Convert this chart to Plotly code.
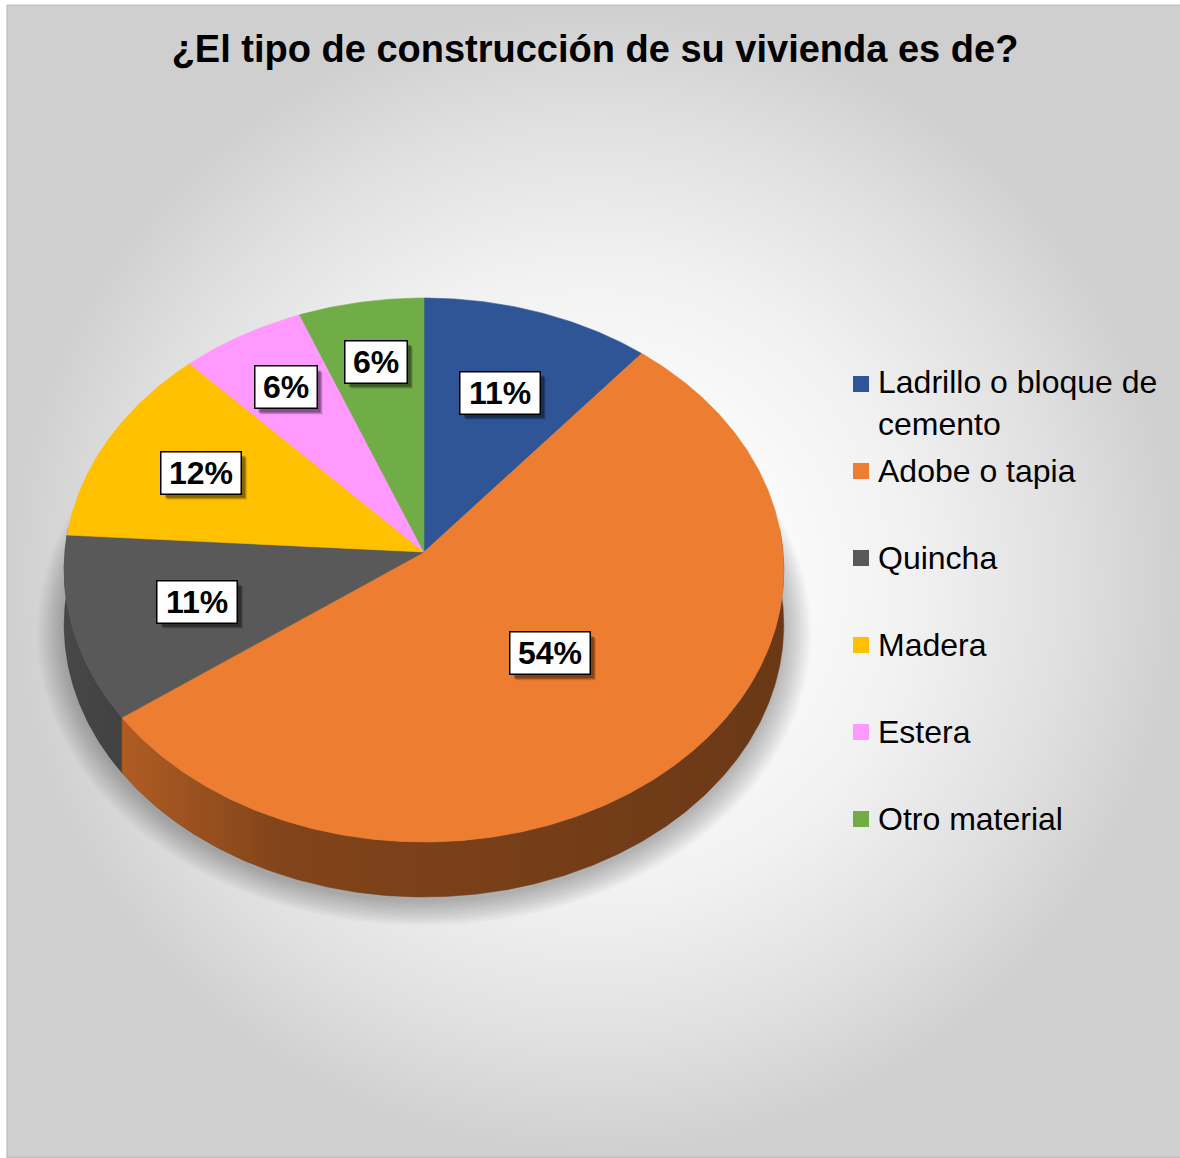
import numpy as np
import plotly.graph_objects as go

# ---------------- data ----------------
TITLE = "¿El tipo de construcción de su vivienda es de?"
CATEGORIES = ["Ladrillo o bloque de cemento", "Adobe o tapia", "Quincha",
              "Madera", "Estera", "Otro material"]
LEGEND_LABELS = ["Ladrillo o bloque de<br>cemento", "Adobe o tapia", "Quincha",
                 "Madera", "Estera", "Otro material"]
PERCENTAGES = [11, 54, 11, 12, 6, 6]

# ---------------- style ----------------
COLORS = ["#2F5597", "#ED7D31", "#595959", "#FFC000", "#FF99FF", "#70AD47"]
LABEL_RADIUS = [0.65, 0.5, 0.65, 0.7, 0.75, 0.75]
FONT = "Liberation Sans, Arial, sans-serif"

FIG_W, FIG_H = 1180, 1158
CX, CY = 424, 552              # pie apex (pixel space)
A, B, K = 359, 270.8, 0.0662   # ellipse radii + perspective factor
DEPTH = 55


def project(theta_deg, r=1.0):
    t = np.radians(np.asarray(theta_deg, dtype=float))
    u = r * np.sin(t)
    v = r * np.cos(t)
    d = 1 + K * v
    return CX + A * u / d, CY - B * v / d


def shade(hex_color, f):
    h = hex_color.lstrip("#")
    r, g, b = (int(h[i:i + 2], 16) for i in (0, 2, 4))
    return "rgb(%d,%d,%d)" % (r * f, g * f, b * f)


total = float(sum(PERCENTAGES))
bounds = np.concatenate([[0], np.cumsum(PERCENTAGES) / total * 360.0])

fig = go.Figure()

# background panel with radial gradient
fig.add_trace(go.Scatter(
    x=[7, 1182, 1182, 7, 7], y=[5, 5, 1157.5, 1157.5, 5], fill="toself", mode="lines",
    line=dict(color="#bdbdbd", width=1.2),
    fillgradient=dict(type="radial",
                      colorscale=[[0, "#ffffff"], [0.3, "#fbfbfb"], [0.55, "#f1f1f1"],
                                  [0.8, "#e0e0e0"], [1, "#cfcfcf"]]),
    hoverinfo="skip", showlegend=False))

# soft shadow under the pie
full = np.linspace(0, 360, 361)
for rr in np.linspace(1.075, 1.0, 12):
    sx, sy = project(full, rr)
    fig.add_trace(go.Scatter(x=sx, y=sy + DEPTH + 5, fill="toself", mode="lines",
                             line=dict(width=0), fillcolor="rgba(0,0,0,0.022)",
                             hoverinfo="skip", showlegend=False))

# side walls (front half only)
for i in range(len(PERCENTAGES)):
    lo, hi = max(bounds[i], 85.0), min(bounds[i + 1], 275.0)
    if hi <= lo:
        continue
    th = np.linspace(lo, hi, max(3, int((hi - lo) * 2)))
    tx, ty = project(th)
    xs = np.concatenate([tx, tx[::-1]])
    ys = np.concatenate([ty, (ty + DEPTH)[::-1]])
    c = COLORS[i]
    fig.add_trace(go.Scatter(
        x=xs, y=ys, fill="toself", mode="lines", line=dict(width=0.5, color=shade(c, 0.5)),
        fillgradient=dict(type="horizontal", start=60, stop=790,
                          colorscale=[[0, shade(c, 0.82)], [0.3, shade(c, 0.55)], [1, shade(c, 0.45)]]),
        hoverinfo="skip", showlegend=False))

# top faces
for i, cat in enumerate(CATEGORIES):
    a0, a1 = bounds[i], bounds[i + 1]
    th = np.linspace(a0, a1, max(3, int((a1 - a0) * 2)))
    ax, ay = project(th)
    xs = np.concatenate([[CX], ax, [CX]])
    ys = np.concatenate([[CY], ay, [CY]])
    fig.add_trace(go.Scatter(x=xs, y=ys, fill="toself", mode="lines",
                             line=dict(width=0.6, color=COLORS[i]), fillcolor=COLORS[i],
                             name=cat, hoverinfo="name", showlegend=False))

annotations = []
shapes = []
# data labels (with drop shadow rectangles)
for i, v in enumerate(PERCENTAGES):
    mid = (bounds[i] + bounds[i + 1]) / 2
    lx, ly = project(mid, LABEL_RADIUS[i])
    lx, ly = float(lx), float(ly)
    txt = "%d%%" % round(v / total * 100)
    ndig = len(txt) - 1
    bw = 16 + 32 * (0.556 * ndig + 0.889)
    bh = 42
    for s, op in [(6, 0.12), (5, 0.18), (4, 0.25)]:
        shapes.append(dict(type="rect", xref="x", yref="y",
                           x0=lx - bw / 2 + s, x1=lx + bw / 2 + s,
                           y0=ly - bh / 2 + s, y1=ly + bh / 2 + s,
                           fillcolor="rgba(0,0,0,%.2f)" % op, line=dict(width=0)))
    annotations.append(dict(text="<b>%s</b>" % txt, x=lx, y=ly, xref="x", yref="y",
                            showarrow=False, width=bw - 3, height=bh - 3,
                            xanchor="center", yanchor="middle",
                            font=dict(family=FONT, size=32, color="black"),
                            bgcolor="white", bordercolor="black", borderwidth=1.5))

# legend (manual)
shapes.insert(0, dict(type="rect", xref="x", yref="y", x0=838, x1=1167, y0=358, y1=880,
                      fillcolor="rgba(255,255,255,0.6)", line=dict(width=0), layer="below"))
for i, lab in enumerate(LEGEND_LABELS):
    yc = 384 + 87 * i
    shapes.append(dict(type="rect", xref="x", yref="y", x0=853, x1=869, y0=yc - 8, y1=yc + 8,
                       fillcolor=COLORS[i], line=dict(width=0)))
    if "<br>" in lab:
        annotations.append(dict(text=lab, x=876, y=yc - 22, xref="x", yref="y", showarrow=False,
                                xanchor="left", yanchor="top", align="left",
                                font=dict(family=FONT, size=32, color="black")))
    else:
        annotations.append(dict(text=lab, x=876, y=yc, xref="x", yref="y", showarrow=False,
                                xanchor="left", yanchor="middle", align="left",
                                font=dict(family=FONT, size=32, color="black")))

fig.update_layout(
    width=FIG_W, height=FIG_H, margin=dict(l=0, r=0, t=0, b=0),
    paper_bgcolor="white", plot_bgcolor="rgba(0,0,0,0)",
    xaxis=dict(range=[0, FIG_W], visible=False, fixedrange=True, domain=[0, 1]),
    yaxis=dict(range=[FIG_H, 0], visible=False, fixedrange=True, domain=[0, 1]),
    title=dict(text=TITLE, x=595 / FIG_W, xanchor="center",
               y=1 - 49 / FIG_H, yanchor="middle",
               font=dict(family=FONT, size=38, color="black", weight="bold")),
    annotations=annotations, shapes=shapes, showlegend=False, hovermode="closest",
)

fig.write_html(
    "out.html",
    config={"displayModeBar": False},
    post_script="document.body.style.margin='0';"
                "document.documentElement.style.overflow='hidden';",
)
